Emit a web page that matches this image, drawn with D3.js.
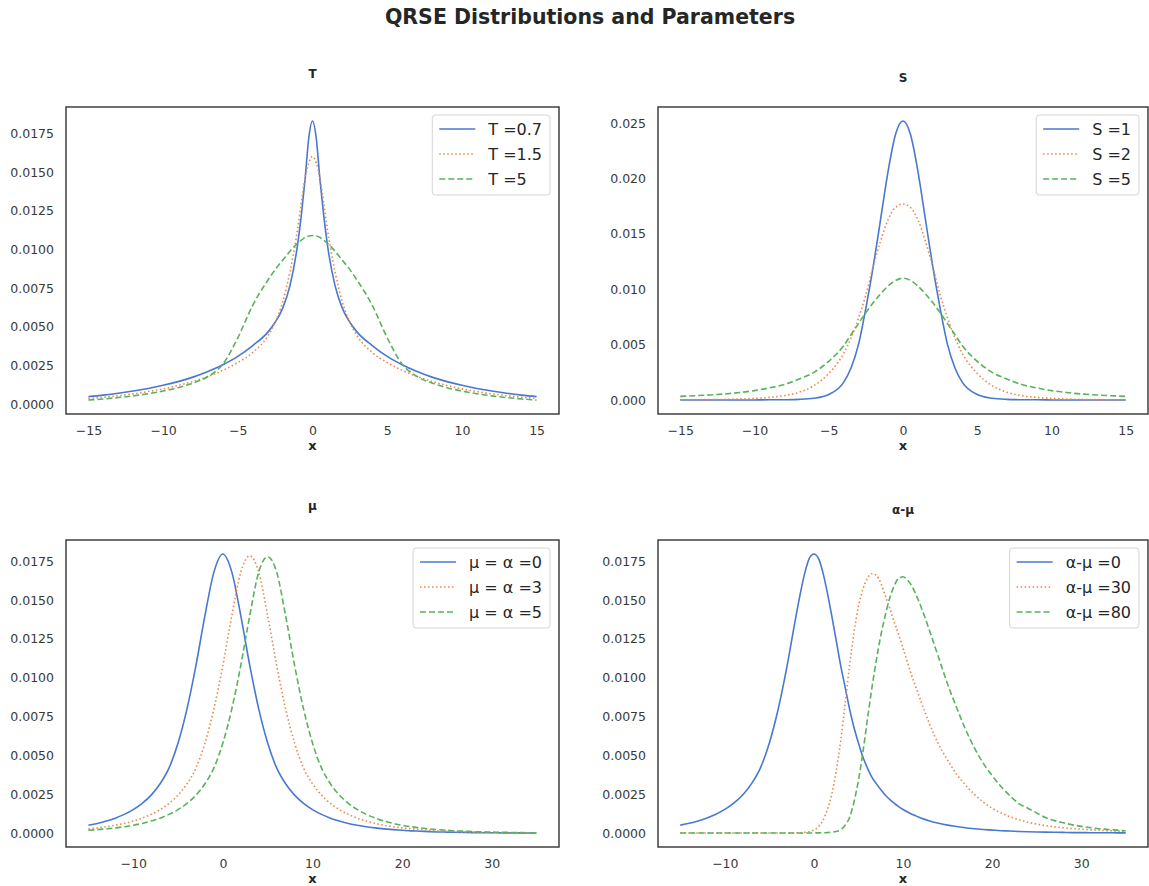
<!DOCTYPE html>
<html><head><meta charset="utf-8">
<script src="https://cdn.jsdelivr.net/npm/d3@7"></script>
<style>body{margin:0;background:#fff;} svg{display:block;font-family:"DejaVu Sans",sans-serif;}</style>
</head><body><svg id="chart" width="1149" height="886"></svg>
<script>
// ---------- data ----------
const xT = [-15,-14,-13,-12,-11,-10,-9,-8,-7,-6,-5,-4,-3,-2.5,-2,-1.5,-1,-0.75,-0.5,-0.25,0,0.25,0.5,0.75,1,1.5,2,2.5,3,4,5,6,7,8,9,10,11,12,13,14,15];
const tBlue = [0.00050,0.00060,0.00072,0.00086,0.00103,0.00123,0.00147,0.00176,0.00212,0.00256,0.00310,0.00380,0.00465,0.00530,0.00620,0.00770,0.01030,0.01220,0.01450,0.01720,0.01830,0.01720,0.01450,0.01220,0.01030,0.00770,0.00620,0.00530,0.00465,0.00380,0.00310,0.00256,0.00212,0.00176,0.00147,0.00123,0.00103,0.00086,0.00072,0.00060,0.00050];
const tOrange = [0.00038,0.00046,0.00056,0.00068,0.00083,0.00100,0.00122,0.00148,0.00180,0.00220,0.00270,0.00335,0.00440,0.00530,0.00660,0.00860,0.01130,0.01300,0.01460,0.01560,0.01600,0.01560,0.01460,0.01300,0.01130,0.00860,0.00660,0.00530,0.00440,0.00335,0.00270,0.00220,0.00180,0.00148,0.00122,0.00100,0.00083,0.00068,0.00056,0.00046,0.00038];
const tGreen = [0.00028,0.00035,0.00044,0.00055,0.00069,0.00086,0.00108,0.00138,0.00180,0.00260,0.00430,0.00640,0.00800,0.00870,0.00930,0.00990,0.01040,0.01060,0.01078,0.01087,0.01090,0.01087,0.01078,0.01060,0.01040,0.00990,0.00930,0.00870,0.00800,0.00640,0.00430,0.00260,0.00180,0.00138,0.00108,0.00086,0.00069,0.00055,0.00044,0.00035,0.00028];

const xS = [-15,-14,-13,-12,-11,-10,-9,-8,-7,-6,-5,-4,-3.5,-3,-2.5,-2,-1.5,-1,-0.5,0,0.5,1,1.5,2,2.5,3,3.5,4,5,6,7,8,9,10,11,12,13,14,15];
const sBlue = [0,0,0,0,0.00001,0.00001,0.00002,0.00003,0.00006,0.00016,0.0005,0.0016,0.0029,0.0050,0.0083,0.0121,0.0164,0.0207,0.0240,0.0252,0.0240,0.0207,0.0164,0.0121,0.0083,0.0050,0.0029,0.0016,0.0005,0.00016,0.00006,0.00003,0.00002,0.00001,0.00001,0,0,0,0];
const sOrange = [0.00002,0.00003,0.00004,0.00006,0.0001,0.00015,0.00024,0.0004,0.0007,0.0013,0.0024,0.0042,0.0056,0.0074,0.0095,0.0121,0.0144,0.0163,0.0174,0.0177,0.0174,0.0163,0.0144,0.0121,0.0095,0.0074,0.0056,0.0042,0.0024,0.0013,0.0007,0.0004,0.00024,0.00015,0.0001,0.00006,0.00004,0.00003,0.00002];
const sGreen = [0.00033,0.00039,0.00046,0.00055,0.00068,0.00085,0.0011,0.0014,0.0019,0.0025,0.0035,0.0049,0.0059,0.0069,0.0079,0.0088,0.0096,0.0103,0.0108,0.0110,0.0108,0.0103,0.0096,0.0088,0.0079,0.0069,0.0059,0.0049,0.0035,0.0025,0.0019,0.0014,0.0011,0.00085,0.00068,0.00055,0.00046,0.00039,0.00033];

const xMu = [-15,-14,-13,-12,-11,-10,-9,-8,-7,-6,-5,-4,-3,-2,-1,0,1,2,3,4,5,6,7,8,9,10,11,12,13,14,15,16,17,18,19,20,21,22,23,24,25,26,27,28,29,30,31,32,33,34,35];
const mu0 = [0.00051,0.00063,0.00078,0.00097,0.00121,0.00152,0.00192,0.00245,0.00318,0.0042,0.0058,0.0080,0.0108,0.0140,0.0168,0.01797,0.0168,0.0140,0.0108,0.0080,0.0058,0.0042,0.00318,0.00245,0.00192,0.00152,0.00121,0.00097,0.00078,0.00063,0.00051,0.00042,0.00034,0.00028,0.00023,0.00019,0.00015,0.00013,0.0001,0.00008,0.00007,0.00006,0.00005,0.00004,0.00003,0.00003,0.00002,0.00002,0.00002,0.00001,0.00001];
const mu3 = [0.00028,0.00034,0.00042,0.00051,0.00063,0.00078,0.00097,0.00121,0.00152,0.00192,0.00245,0.00318,0.0042,0.0058,0.0080,0.0108,0.0140,0.0168,0.01785,0.0168,0.0140,0.0108,0.0080,0.0058,0.0042,0.00318,0.00245,0.00192,0.00152,0.00121,0.00097,0.00078,0.00063,0.00051,0.00042,0.00034,0.00028,0.00023,0.00019,0.00015,0.00013,0.0001,0.00008,0.00007,0.00006,0.00005,0.00004,0.00003,0.00003,0.00002,0.00002];
const mu5 = [0.00019,0.00023,0.00028,0.00034,0.00042,0.00051,0.00063,0.00078,0.00097,0.00121,0.00152,0.00192,0.00245,0.00318,0.0042,0.0058,0.0080,0.0108,0.0140,0.0168,0.0178,0.0168,0.0140,0.0108,0.0080,0.0058,0.0042,0.00318,0.00245,0.00192,0.00152,0.00121,0.00097,0.00078,0.00063,0.00051,0.00042,0.00034,0.00028,0.00023,0.00019,0.00015,0.00013,0.0001,0.00008,0.00007,0.00006,0.00005,0.00004,0.00003,0.00003];

const xAM = [-15,-14,-13,-12,-11,-10,-9,-8,-7,-6,-5,-4,-3,-2,-1.5,-1,-0.5,0,0.5,1,1.5,2,2.5,3,3.5,4,4.5,5,5.5,6,6.5,7,7.5,8,8.5,9,9.5,10,10.5,11,11.5,12,13,14,15,16,17,18,19,20,21,22,23,24,25,26,27,28,29,30,31,32,33,34,35];
const am0 = [0.00051,0.00063,0.00078,0.00097,0.00121,0.00152,0.00192,0.00245,0.00318,0.0042,0.0058,0.0080,0.0108,0.0140,0.0155,0.0168,0.0177,0.01797,0.0177,0.0168,0.0155,0.0140,0.0124,0.0108,0.0094,0.0080,0.0068,0.0058,0.0049,0.0042,0.0036,0.00318,0.0028,0.00245,0.00217,0.00192,0.0017,0.00152,0.00136,0.00121,0.00109,0.00097,0.00078,0.00063,0.00051,0.00042,0.00034,0.00028,0.00023,0.00019,0.00015,0.00013,0.0001,0.00008,0.00007,0.00006,0.00005,0.00004,0.00003,0.00003,0.00002,0.00002,0.00002,0.00001,0.00001];
const am30 = [0,0,0,0,0,0,0,0,0,0,0,0,0,0.00001,0.00002,0.00005,0.0001,0.0002,0.0004,0.0008,0.0015,0.0025,0.0040,0.0059,0.0083,0.0108,0.0129,0.0146,0.0157,0.0164,0.0167,0.0166,0.0161,0.0153,0.0145,0.0136,0.0128,0.0119,0.0110,0.0101,0.0093,0.0085,0.0070,0.0057,0.0047,0.0038,0.0031,0.0025,0.0020,0.0016,0.0013,0.00105,0.00086,0.0007,0.00058,0.00048,0.0004,0.00034,0.00029,0.00025,0.00021,0.00018,0.00015,0.00013,0.00011];
const am80 = [0,0,0,0,0,0,0,0,0,0,0,0,0,0,0,0,0,0.00001,0.00001,0.00002,0.00003,0.00005,0.0001,0.0002,0.0005,0.0010,0.0020,0.0034,0.0052,0.0073,0.0093,0.0111,0.0127,0.0140,0.0151,0.0159,0.0164,0.0165,0.0163,0.0159,0.0153,0.0146,0.0130,0.0113,0.0096,0.0081,0.0067,0.0055,0.0045,0.0037,0.0030,0.0024,0.0019,0.0016,0.0013,0.0010,0.0008,0.00066,0.00053,0.00043,0.00035,0.00028,0.00023,0.00019,0.00015];

const xTicksTop = [-15,-10,-5,0,5,10,15];
const xTicksBottom = [-10,0,10,20,30];
const yTicks4 = [0,0.0025,0.005,0.0075,0.01,0.0125,0.015,0.0175];
const yTicksS = [0,0.005,0.01,0.015,0.02,0.025];

const titles = ["T","S","μ","α-μ"];
const legendT = ["T =0.7","T =1.5","T =5"];
const legendS = ["S =1","S =2","S =5"];
const legendMu = ["μ = α =0","μ = α =3","μ = α =5"];
const legendAM = ["α-μ =0","α-μ =30","α-μ =80"];
const mainTitle = "QRSE Distributions and Parameters";

const colors = ["#4878d0","#ee854a","#58b35a"];
const dashes = [null,"1.5,2.5","6,3"];

// ---------- drawing ----------
const svg = d3.select("#chart");
svg.append("rect").attr("width",1149).attr("height",886).attr("fill","#fff");

svg.append("text").attr("x",590).attr("y",24).attr("text-anchor","middle")
  .attr("font-size",20.5).attr("font-weight","bold").attr("fill","#262626").text(mainTitle);

function padExtent(vals){
  const [a,b] = d3.extent(vals); const r = b-a; return [a-0.05*r, b+0.05*r];
}

const panels = [
  {x:xT, series:[tBlue,tOrange,tGreen], labels:legendT, title:titles[0], xticks:xTicksTop, yticks:yTicks4, yfmt:".4f", L:66, R:559, T:107, B:414, ty:78},
  {x:xS, series:[sBlue,sOrange,sGreen], labels:legendS, title:titles[1], xticks:xTicksTop, yticks:yTicksS, yfmt:".3f", L:658, R:1148, T:107, B:414, ty:82},
  {x:xMu, series:[mu0,mu3,mu5], labels:legendMu, title:titles[2], xticks:xTicksBottom, yticks:yTicks4, yfmt:".4f", L:66, R:559, T:540, B:847, ty:510},
  {x:xAM, series:[am0,am30,am80], labels:legendAM, title:titles[3], xticks:xTicksBottom, yticks:yTicks4, yfmt:".4f", L:658, R:1148, T:540, B:847, ty:514}
];

panels.forEach(p => {
  const g = svg.append("g");
  const x = d3.scaleLinear().domain(padExtent(p.x)).range([p.L, p.R]);
  const y = d3.scaleLinear().domain(padExtent(p.series.flat())).range([p.B, p.T]);

  p.series.forEach((vals,i) => {
    const line = d3.line().x((d,j)=>x(p.x[j])).y(d=>y(d)).curve(d3.curveMonotoneX);
    const path = g.append("path").attr("d", line(vals)).attr("fill","none")
      .attr("stroke", colors[i]).attr("stroke-width",1.6);
    if (dashes[i]) path.attr("stroke-dasharray", dashes[i]);
  });

  g.append("rect").attr("x",p.L).attr("y",p.T).attr("width",p.R-p.L).attr("height",p.B-p.T)
    .attr("fill","none").attr("stroke","#333").attr("stroke-width",1.4);

  const xa = g.append("g").attr("transform",`translate(0,${p.B})`)
    .call(d3.axisBottom(x).tickValues(p.xticks).tickSize(0).tickPadding(12).tickFormat(d3.format("d")));
  const ya = g.append("g").attr("transform",`translate(${p.L},0)`)
    .call(d3.axisLeft(y).tickValues(p.yticks).tickSize(0).tickPadding(12).tickFormat(d3.format(p.yfmt)));
  [xa,ya].forEach(a => {
    a.select(".domain").remove();
    a.attr("font-family","DejaVu Sans, sans-serif").attr("font-size",12.5).attr("color","#3a3a3a");
  });

  g.append("text").attr("x",(p.L+p.R)/2).attr("y",p.ty).attr("text-anchor","middle")
    .attr("font-size",12).attr("font-weight","bold").attr("fill","#262626").text(p.title);
  g.append("text").attr("x",(p.L+p.R)/2).attr("y",p.B+36).attr("text-anchor","middle")
    .attr("font-size",13).attr("font-weight","bold").attr("fill","#262626").text("x");

  // legend
  const lg = g.append("g");
  const box = lg.append("rect");
  const texts = p.labels.map((t,i) => lg.append("text").attr("font-size",16).attr("fill","#262626")
    .attr("dy","0.35em").text(t));
  const maxW = d3.max(texts, t => t.node().getComputedTextLength());
  const bw = 7 + 36 + 13 + maxW + 8, bh = 80;
  const bx = p.R - 9 - bw, by = p.T + 8;
  box.attr("x",bx).attr("y",by).attr("width",bw).attr("height",bh).attr("rx",3)
    .attr("fill","#fff").attr("fill-opacity",0.8).attr("stroke","#d5d5d5").attr("stroke-width",1);
  p.labels.forEach((t,i) => {
    const cy = by + 14 + i*25;
    const h = lg.append("line").attr("x1",bx+7).attr("x2",bx+43).attr("y1",cy).attr("y2",cy)
      .attr("stroke",colors[i]).attr("stroke-width",1.6);
    if (dashes[i]) h.attr("stroke-dasharray",dashes[i]);
    texts[i].attr("x",bx+56).attr("y",cy);
  });
});
</script>
</body></html>
